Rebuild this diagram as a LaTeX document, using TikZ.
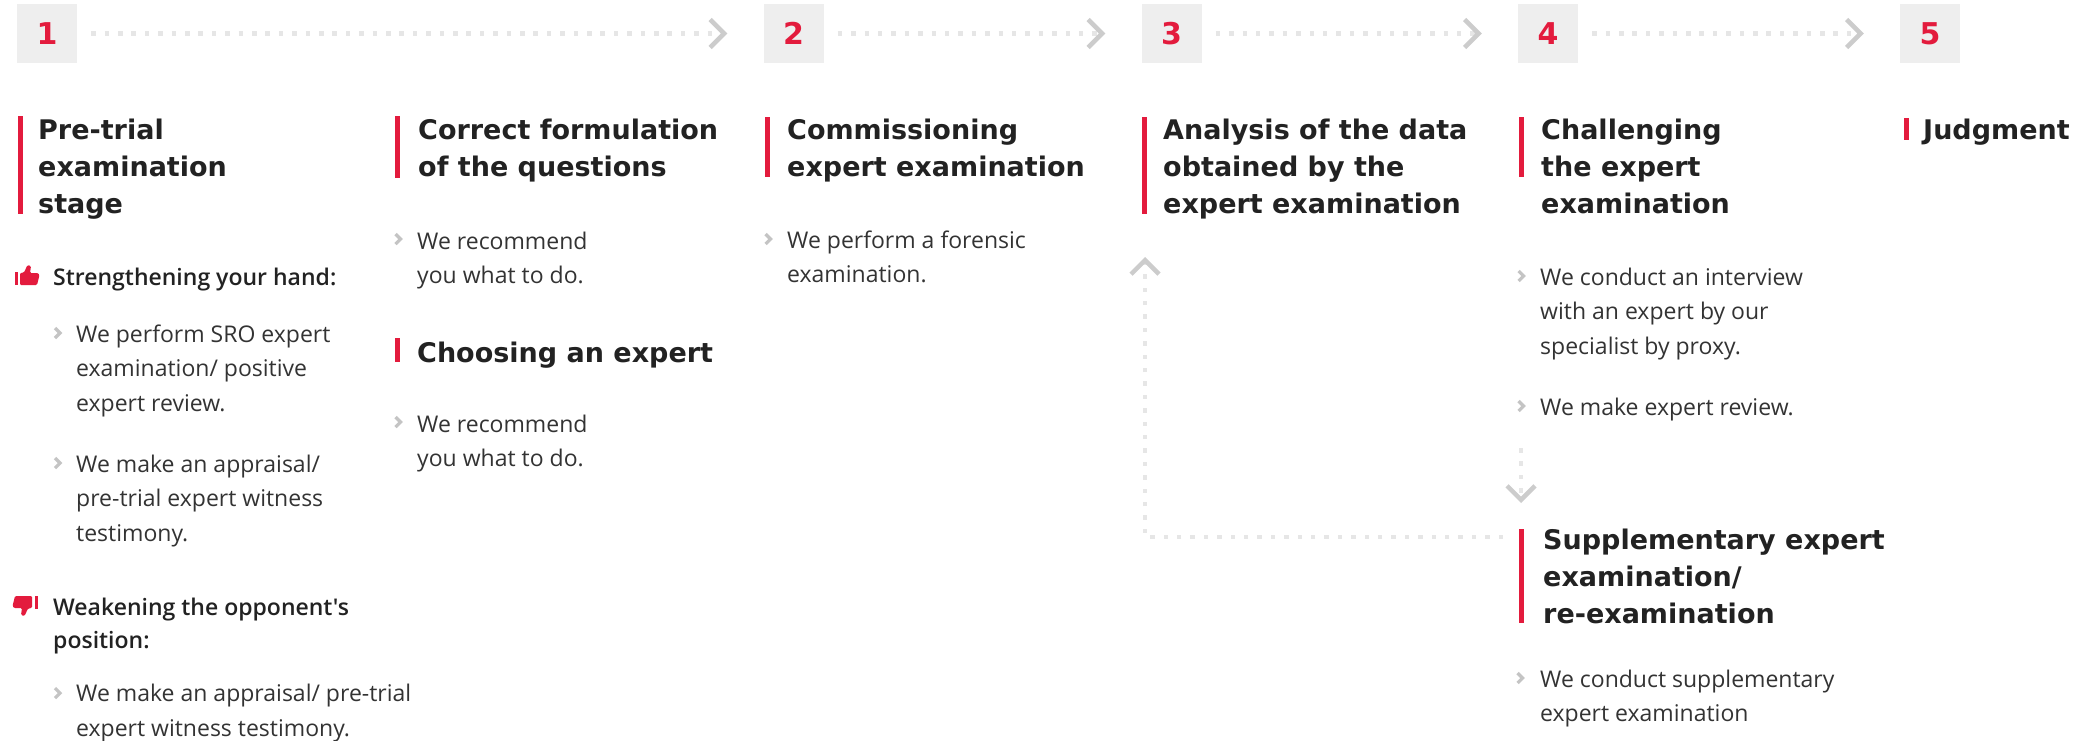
\documentclass[tikz,border=0pt]{standalone}
\usepackage{fontspec}
\usepackage{tikz}
\usetikzlibrary{arrows.meta,positioning}
\newfontfamily\headfont{DejaVu Sans}
\newfontfamily\bodyfont{Open Sans}
\IfFontExistsTF{Open Sans Semibold}{\newfontfamily\subfont{Open Sans Semibold}}{\newfontfamily\subfont{Open Sans}[UprightFont=* Bold]}
\definecolor{stepred}{HTML}{E31B3D}
\definecolor{boxgrey}{HTML}{EEEEEE}
\definecolor{dotgrey}{HTML}{E6E6E6}
\definecolor{chevgrey}{HTML}{CCCCCC}
\definecolor{bulgrey}{HTML}{C4C4C4}
\definecolor{headink}{HTML}{222222}
\definecolor{bodyink}{HTML}{333333}

\begin{document}
\begin{tikzpicture}[x=1pt,y=-1pt,
	stepbox/.style={fill=boxgrey, minimum width=60pt, minimum height=59pt, inner sep=0pt, text=stepred, font=\headfont\bfseries\fontsize{30}{36}\selectfont},
	head/.style={anchor=base west, inner sep=0pt, align=left, text=headink, font=\headfont\bfseries\fontsize{27}{37}\selectfont},
	subhead/.style={anchor=base west, inner sep=0pt, align=left, text=headink, font=\subfont\fontsize{23}{33}\selectfont},
	body/.style={anchor=base west, inner sep=0pt, align=left, text=bodyink, font=\bodyfont\fontsize{23}{34.5}\selectfont},
	redbar/.style={draw=stepred, line width=5pt},
	flow/.style={draw=dotgrey, line width=4.5pt, dash pattern=on 4.5pt off 8.9pt, -{Straight Barb[length=14pt,width=28pt,line width=4.5pt,color=chevgrey]}},
	tick/.pic={\draw[bulgrey, line width=3.2pt] (-2.5,-5) -- (2.5,0) -- (-2.5,5);},
	thumb/.pic={\fill[stepred] (-12.5,-3) rectangle (-9.5,10);
		\fill[stepred, rounded corners=1.2pt] (-7,-2) -- (-3,-2.5) -- (0.5,-10) -- (4,-9) -- (3,-2) -- (11,-2) -- (12.5,0) -- (10,10) -- (-7,10) -- cycle;}]
		\useasboundingbox (0,0) rectangle (2092,740);
		%Caselle numerate
		\node [stepbox] (n1) at (47,33.5) {1};
		\node [stepbox] (n2) at (793.5,33.5) {2};
		\node [stepbox] (n3) at (1171.5,33.5) {3};
		\node [stepbox] (n4) at (1548,33.5) {4};
		\node [stepbox] (n5) at (1930,33.5) {5};
		%Frecce tra le fasi
		\draw [flow, shorten <=14pt, shorten >=36pt] (n1.east) -- (n2.west);
		\draw [flow, shorten <=14pt, shorten >=36pt] (n2.east) -- (n3.west);
		\draw [flow, shorten <=14pt, shorten >=36pt] (n3.east) -- (n4.west);
		\draw [flow, shorten <=14pt, shorten >=36pt] (n4.east) -- (n5.west);
		%Titoli (posti sull'ultima riga)
		\draw [redbar] (20,116) -- (20,214);
		\node [head] (pretrial) at (38,213) {Pre-trial\\examination\\stage};
		\draw [redbar] (397.5,116) -- (397.5,178);
		\node [head] (questions) at (418,176) {Correct formulation\\of the questions};
		\draw [redbar] (397.5,338) -- (397.5,362);
		\node [head] (choosing) at (417,362) {Choosing an expert};
		\draw [redbar] (767.5,117) -- (767.5,177);
		\node [head] (commission) at (787,176) {Commissioning\\expert examination};
		\draw [redbar] (1144.5,117) -- (1144.5,214);
		\node [head] (analysis) at (1163,213) {Analysis of the data\\obtained by the\\expert examination};
		\draw [redbar] (1521.5,117) -- (1521.5,177);
		\node [head] (challenge) at (1541,213) {Challenging\\the expert\\examination};
		\draw [redbar] (1906,118) -- (1906,140);
		\node [head] (judgment) at (1923,139) {Judgment};
		\draw [redbar] (1521.5,529) -- (1521.5,623);
		\node [head] (supplement) at (1543,623) {Supplementary expert\\examination/\\re-examination};
		%Colonna 1
		\pic at (27,275) {thumb};
		\node [subhead] (strong) at (53,285) {Strengthening your hand:};
		\pic at (57.5,333) {tick};
		\node [body] (sro) at (76,411) {We perform SRO expert\\examination/ positive\\expert review.};
		\pic at (57.5,463) {tick};
		\node [body] (appraisal) at (76,541) {We make an appraisal/\\pre-trial expert witness\\testimony.};
		\pic [rotate=180] at (25,606) {thumb};
		\node [subhead] (weak) at (53,648) {Weakening the opponent's\\position:};
		\pic at (57.5,693) {tick};
		\node [body] (appraisalb) at (76,736) {We make an appraisal/ pre-trial\\expert witness testimony.};
		%Colonna 2
		\pic at (398,239) {tick};
		\node [body] (recommend) at (417,283.5) {We recommend\\you what to do.};
		\pic at (398,422) {tick};
		\node [body] (recommendb) at (417,466.5) {We recommend\\you what to do.};
		%Colonna 3
		\pic at (768,239) {tick};
		\node [body] (forensic) at (787,282.5) {We perform a forensic\\examination.};
		%Colonna 5
		\pic at (1521,276) {tick};
		\node [body] (interview) at (1540,354) {We conduct an interview\\with an expert by our\\specialist by proxy.};
		\pic at (1521,406) {tick};
		\node [body] (review) at (1540,415) {We make expert review.};
		\pic at (1520,678) {tick};
		\node [body] (suppbody) at (1540,721.5) {We conduct supplementary\\expert examination};
		%Ritorno all'analisi
		\coordinate (revend) at (1521,448);
		\coordinate (supin) at (1521,503);
		\draw [flow] (revend) -- (supin);
		\coordinate (supout) at (1503,537);
		\coordinate (anain) at (1145,257);
		\draw [flow] (supout) -| (anain);
	\end{tikzpicture}
\end{document}
